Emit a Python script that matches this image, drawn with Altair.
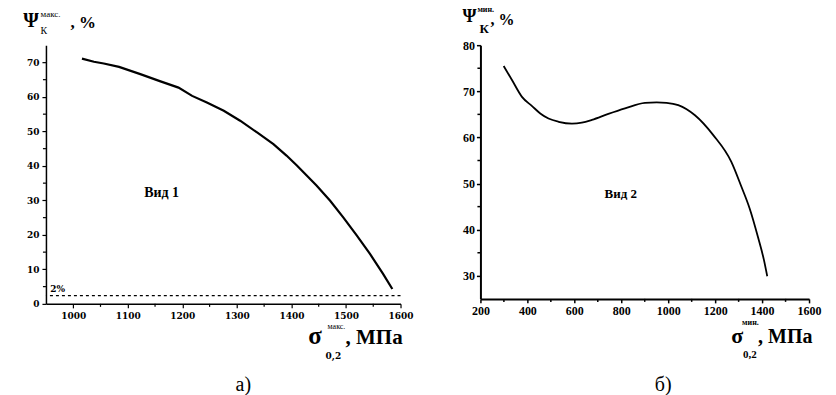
import altair as alt
import pandas as pd

# ---------------- panel a) ----------------
a_sigma = [1016, 1038, 1056, 1084, 1123, 1160, 1193, 1218, 1245, 1276, 1306, 1337,
           1367, 1391, 1410, 1428, 1446, 1471, 1495, 1520, 1544, 1568, 1585]
a_psi = [71.1, 70.2, 69.7, 68.7, 66.6, 64.5, 62.7, 60.3, 58.4, 56.0, 53.1, 49.7,
         46.3, 43.0, 40.1, 37.2, 34.3, 29.9, 25.1, 19.8, 14.5, 8.7, 4.3]
a_limit = [2.4]
a_x_ticks = [1000, 1100, 1200, 1300, 1400, 1500, 1600]
a_x_minor = [1050, 1150, 1250, 1350, 1450, 1550]
a_y_ticks = [0, 10, 20, 30, 40, 50, 60, 70]
a_y_minor = [5, 15, 25, 35, 45, 55, 65]
a_x_domain = [950, 1600]
a_y_domain = [0, 75]

# ---------------- panel б) ----------------
b_sigma = [299, 335, 377, 420, 455, 490, 533, 590, 632, 675, 745, 816, 901, 951,
           993, 1043, 1114, 1192, 1269, 1312, 1347, 1383, 1408, 1422]
b_psi = [75.5, 72.4, 68.8, 66.8, 65.2, 64.1, 63.4, 63.0, 63.2, 63.8, 65.1, 66.3,
         67.5, 67.6, 67.5, 67.0, 64.8, 60.5, 54.7, 49.3, 44.6, 38.3, 33.4, 29.9]
b_x_ticks = [200, 400, 600, 800, 1000, 1200, 1400, 1600]
b_x_minor = [300, 500, 700, 900, 1100, 1300, 1500]
b_y_ticks = [30, 40, 50, 60, 70, 80]
b_y_minor = [35, 45, 55, 65, 75]
b_x_domain = [200, 1600]
b_y_domain = [25, 80]

SERIF = "Liberation Serif, Times New Roman, serif"
DSERIF = "DejaVu Serif, serif"
WA, HA = 355, 259
WB, HB = 329, 254


def txt(text, x, y, size, weight="bold", align="left", font=SERIF, baseline="alphabetic"):
    return alt.Chart(pd.DataFrame({"k": [0]})).mark_text(
        text=text, font=font, fontSize=size, fontWeight=weight, align=align,
        baseline=baseline, color="black"
    ).encode(x=alt.value(x), y=alt.value(y))


def anchor(x1, x2, y):
    return alt.Chart(pd.DataFrame({"k": [0]})).mark_rule(opacity=0, strokeWidth=0.1).encode(
        x=alt.value(x1), x2=alt.value(x2), y=alt.value(y))


# ---- panel a ----
ax_a = alt.Axis(values=a_x_ticks, title=None, grid=False, format="d",
                labelFont=DSERIF, labelFontSize=9, labelFontWeight="bold",
                labelColor="black", domainColor="black", domainWidth=1.5,
                tickColor="black", tickSize=4, tickWidth=1.2, labelPadding=4,
                labelFlush=False, labelOverlap=False)
ay_a = alt.Axis(values=a_y_ticks, title=None, grid=False, format="d",
                labelFont=DSERIF, labelFontSize=9, labelFontWeight="bold",
                labelColor="black", domainColor="black", domainWidth=1.5,
                tickColor="black", tickSize=4, tickWidth=1.2, labelPadding=3,
                labelFlush=False, labelOverlap=False)
xa = alt.X("s:Q", scale=alt.Scale(domain=a_x_domain, nice=False, zero=False), axis=ax_a)
ya = alt.Y("p:Q", scale=alt.Scale(domain=a_y_domain, nice=False), axis=ay_a)

df_a = pd.DataFrame({"s": a_sigma, "p": a_psi})
line_a = alt.Chart(df_a).mark_line(color="black", strokeWidth=2.2).encode(x=xa, y=ya)
minor_xa = alt.Chart(pd.DataFrame({"s": a_x_minor})).mark_rule(color="black", strokeWidth=1.2).encode(
    x=xa, y=alt.value(HA), y2=alt.value(HA + 3))
minor_ya = alt.Chart(pd.DataFrame({"p": a_y_minor})).mark_rule(color="black", strokeWidth=1.2).encode(
    y=ya, x=alt.value(0), x2=alt.value(-3))
limit_a = alt.Chart(pd.DataFrame({"p": a_limit})).mark_rule(
    color="black", strokeWidth=1.3, strokeDash=[3, 3]).encode(y=ya)
limit_lbl = alt.Chart(pd.DataFrame({"s": [958], "p": [a_limit[0]], "t": ["2%"]})).mark_text(
    font=DSERIF, fontSize=9, fontWeight="bold", align="left", baseline="bottom",
    dy=-2, color="black").encode(x=xa, y=ya, text="t:N")
vid1 = alt.Chart(pd.DataFrame({"s": [1162], "p": [32.2], "t": ["Вид 1"]})).mark_text(
    font=SERIF, fontSize=14, fontWeight="bold", color="black").encode(x=xa, y=ya, text="t:N")

panel_a = alt.layer(
    anchor(-45.4, 374.6, -44.3),
    limit_a, line_a, minor_xa, minor_ya, limit_lbl, vid1,
    txt("Ψ", -22.7, -18.3, 20),
    txt("макс.", -5.4, -28.3, 9, weight="normal"),
    txt("К", -5.4, -11.3, 10, weight="normal"),
    txt(", %", 24.6, -17.3, 17),
    txt("σ", 262.6, 298.7, 25),
    txt("макс.", 282, 284, 8, weight="normal"),
    txt("0,2", 280, 313.7, 9, font=DSERIF),
    txt(", МПа", 300, 298.7, 21),
    txt("а)", 197.6, 346.7, 20, weight="normal", align="center"),
).properties(width=WA, height=HA)

# ---- panel b ----
ax_b = alt.Axis(values=b_x_ticks, title=None, grid=False, format="d",
                labelFont=SERIF, labelFontSize=12, labelFontWeight="bold",
                labelColor="black", domainColor="black", domainWidth=2,
                tickColor="black", tickSize=4, tickWidth=1.5, labelPadding=3,
                labelFlush=False, labelOverlap=False)
ay_b = alt.Axis(values=b_y_ticks, title=None, grid=False, format="d",
                labelFont=SERIF, labelFontSize=12, labelFontWeight="bold",
                labelColor="black", domainColor="black", domainWidth=2,
                tickColor="black", tickSize=4, tickWidth=1.5, labelPadding=2,
                labelFlush=False, labelOverlap=False)
xb = alt.X("s:Q", scale=alt.Scale(domain=b_x_domain, nice=False, zero=False), axis=ax_b)
yb = alt.Y("p:Q", scale=alt.Scale(domain=b_y_domain, nice=False, zero=False), axis=ay_b)

df_b = pd.DataFrame({"s": b_sigma, "p": b_psi})
line_b = alt.Chart(df_b).mark_line(color="black", strokeWidth=1.8, interpolate="monotone").encode(x=xb, y=yb)
minor_xb = alt.Chart(pd.DataFrame({"s": b_x_minor})).mark_rule(color="black", strokeWidth=1.5).encode(
    x=xb, y=alt.value(HB), y2=alt.value(HB + 3))
minor_yb = alt.Chart(pd.DataFrame({"p": b_y_minor})).mark_rule(color="black", strokeWidth=1.5).encode(
    y=yb, x=alt.value(0), x2=alt.value(-3))
vid2 = alt.Chart(pd.DataFrame({"s": [798], "p": [47.7], "t": ["Вид 2"]})).mark_text(
    font=SERIF, fontSize=13, fontWeight="bold", color="black").encode(x=xb, y=yb, text="t:N")

panel_b = alt.layer(
    anchor(-60, 356, -45),
    line_b, minor_xb, minor_yb, vid2,
    txt("Ψ", -18, -23, 18),
    txt("мин.", -3, -33, 8),
    txt("К", -1, -12, 13),
    txt(", %", 10, -20, 16),
    txt("σ", 251, 298, 22),
    txt("мин.", 262, 280, 8),
    txt("0,2", 263, 313, 11),
    txt(", МПа", 278, 298, 20),
    txt("б)", 183, 346, 20, weight="normal", align="center"),
).properties(width=WB, height=HB)

chart = alt.hconcat(panel_a, panel_b, spacing=0).properties(
    padding=0, background="white"
).configure_view(strokeWidth=0)

chart.save("out.html", embed_options={"renderer": "svg", "actions": False})
